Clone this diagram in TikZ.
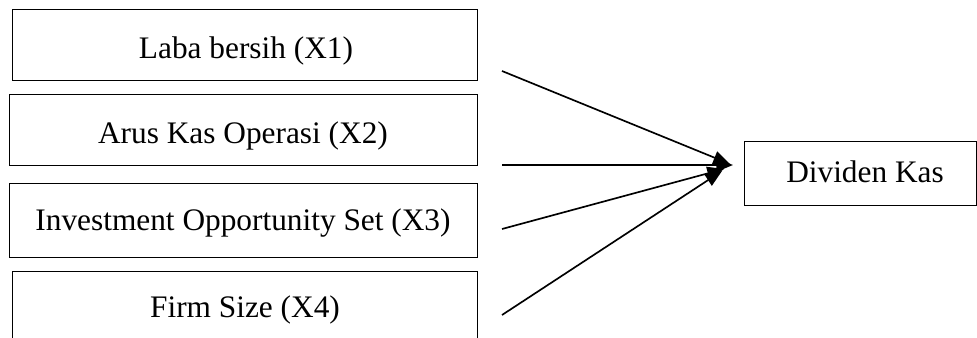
\documentclass[tikz,border=0pt]{standalone}
\usepackage{fontspec}
\setmainfont{Liberation Serif}
\usetikzlibrary{arrows.meta}
\begin{document}
\begin{tikzpicture}[x=0.75pt,y=-0.75pt,
  box/.style={draw=black,line width=0.9pt,fill=none,inner sep=0pt,anchor=north west},
  lbl/.style={anchor=base,inner sep=0pt,font=\fontsize{23.5}{28}\selectfont},
  arr/.style={line width=1.25pt,-{Triangle[length=12.5pt,width=10pt]}}]
\clip (0,0) rectangle (977,338);
\fill[white] (0,0) rectangle (977,338);
% boxes
\node[box,minimum width=465*0.75pt,minimum height=71*0.75pt] (b1) at (12,9) {};
\node[box,minimum width=468*0.75pt,minimum height=71*0.75pt] (b2) at (9,94) {};
\node[box,minimum width=468*0.75pt,minimum height=74*0.75pt] (b3) at (9,183) {};
\node[box,minimum width=465*0.75pt,minimum height=90*0.75pt] (b4) at (12,271) {};
\node[box,minimum width=232*0.75pt,minimum height=64*0.75pt] (dk) at (744,141) {};
\node[lbl] (t1) at (246,59) {Laba bersih (X1)};
\node[lbl] (t2) at (243,144) {Arus Kas Operasi (X2)};
\node[lbl] (t3) at (243,231) {Investment Opportunity Set (X3)};
\node[lbl] (t4) at (245,317) {Firm Size (X4)};
\node[lbl] (t5) at (865,183) {Dividen Kas};
% arrows
\coordinate (s1) at (502,71);
\coordinate (s2) at (502,165);
\coordinate (s3) at (502,229);
\coordinate (s4) at (502,315);
\coordinate (e1) at (730,164);
\coordinate (e2) at (733,165);
\coordinate (e3) at (724,169);
\coordinate (e4) at (722,171);
\draw[arr] (s1) -- (e1);
\draw[arr] (s2) -- (e2);
\draw[arr] (s3) -- (e3);
\draw[arr] (s4) -- (e4);
\end{tikzpicture}
\end{document}
